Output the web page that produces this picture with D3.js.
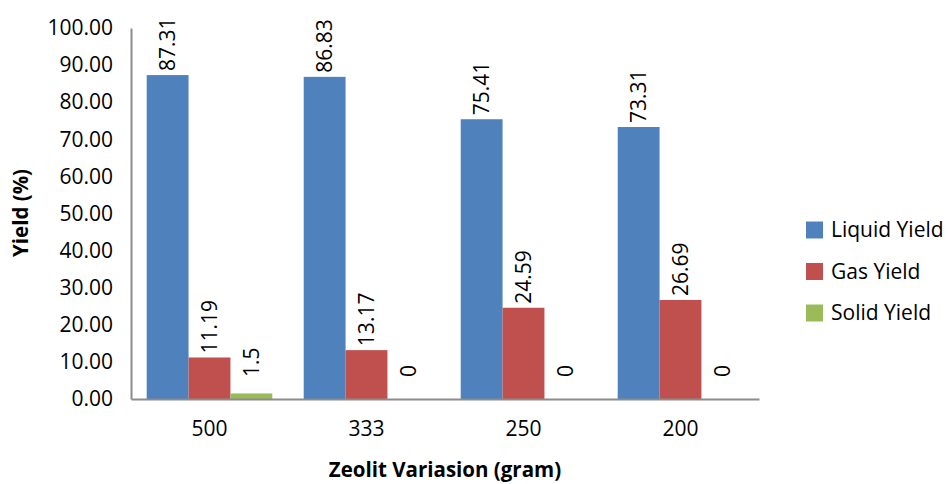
<html>
<head>
<script src="https://cdn.jsdelivr.net/npm/d3@7"></script>
<style>
    body {
        margin: 0;
        background: white;
        font-family: "Open Sans", Arial, sans-serif;
    }
</style>
</head>
<body>
<svg id="chart"></svg>
<script>
    // data
    let categories = ["500", "333", "250", "200"];
    let seriesNames = ["Liquid Yield", "Gas Yield", "Solid Yield"];
    let liquidYield = [87.31, 86.83, 75.41, 73.31];
    let gasYield = [11.19, 13.17, 24.59, 26.69];
    let solidYield = [1.5, 0, 0, 0];
    let labelText = [
        ["87.31", "86.83", "75.41", "73.31"],
        ["11.19", "13.17", "24.59", "26.69"],
        ["1.5", "0", "0", "0"]
    ];
    let yTicks = [0, 10, 20, 30, 40, 50, 60, 70, 80, 90, 100];
    let colors = ["#4F81BD", "#C0504D", "#9BBB59"];

    let width = 948;
    let height = 484;
    let margin = { top: 28, bottom: 85, left: 131, right: 189 };

    let svg = d3.select("#chart")
        .attr("width", width)
        .attr("height", height);

    let rows = categories.map((c, i) => ({
        category: c,
        values: [liquidYield[i], gasYield[i], solidYield[i]],
        labels: [labelText[0][i], labelText[1][i], labelText[2][i]]
    }));

    // scales
    let xScale = d3.scaleBand()
        .domain(categories)
        .range([margin.left, width - margin.right])
        .paddingInner(0.2)
        .paddingOuter(0.1);

    let xSub = d3.scaleBand()
        .domain(seriesNames)
        .range([0, xScale.bandwidth()]);

    let yScale = d3.scaleLinear()
        .domain([0, 100])
        .range([height - margin.bottom, margin.top]);

    // bars
    let groups = svg.selectAll(".group")
        .data(rows)
        .enter().append("g")
        .attr("class", "group")
        .attr("transform", d => `translate(${xScale(d.category)},0)`);

    groups.selectAll("rect")
        .data(d => d.values.map((v, k) => ({ v, k, name: seriesNames[k] })))
        .enter().append("rect")
        .attr("x", d => xSub(d.name))
        .attr("width", xSub.bandwidth())
        .attr("y", d => yScale(d.v))
        .attr("height", d => yScale(0) - yScale(d.v))
        .attr("fill", d => colors[d.k]);

    // rotated value labels
    groups.selectAll("text")
        .data(d => d.values.map((v, k) => ({ v, k, name: seriesNames[k], label: d.labels[k] })))
        .enter().append("text")
        .attr("transform", d => {
            let cx = xSub(d.name) + xSub.bandwidth() / 2;
            let cy = Math.min(yScale(d.v) - 4, yScale(0) - 22);
            return `translate(${cx},${cy}) rotate(-90)`;
        })
        .attr("dy", "0.35em")
        .attr("font-size", 21)
        .attr("fill", "#000")
        .text(d => d.label);

    // axes
    let axisY = d3.axisLeft(yScale)
        .tickValues(yTicks)
        .tickFormat(d3.format(".2f"))
        .tickSize(0)
        .tickPadding(18);

    let gy = svg.append("g")
        .attr("transform", `translate(${margin.left},0)`)
        .call(axisY);
    gy.select(".domain").attr("stroke", "#8c8c8c").attr("stroke-width", 2);
    gy.selectAll("text")
        .attr("font-family", "Open Sans")
        .attr("font-size", 21)
        .attr("fill", "#000");

    let axisX = d3.axisBottom(xScale)
        .tickSize(0)
        .tickPadding(22);

    let gx = svg.append("g")
        .attr("transform", `translate(0,${height - margin.bottom})`)
        .call(axisX);
    gx.select(".domain").attr("stroke", "#8c8c8c").attr("stroke-width", 2);
    gx.selectAll("text")
        .attr("font-family", "Open Sans")
        .attr("font-size", 21)
        .attr("fill", "#000");

    // axis titles
    svg.append("text")
        .attr("x", 445)
        .attr("y", 477)
        .attr("text-anchor", "middle")
        .attr("font-weight", "bold")
        .attr("font-size", 20.5)
        .text("Zeolit Variasion (gram)");

    svg.append("text")
        .attr("transform", `translate(21,213) rotate(-90)`)
        .attr("text-anchor", "middle")
        .attr("dy", "0.35em")
        .attr("font-weight", "bold")
        .attr("font-size", 20.5)
        .text("Yield (%)");

    // legend
    let legend = svg.selectAll(".legend")
        .data(seriesNames)
        .enter().append("g")
        .attr("class", "legend")
        .attr("transform", (d, i) => `translate(806,${230 + i * 41.5})`);

    legend.append("rect")
        .attr("x", 0)
        .attr("y", -8.5)
        .attr("width", 17)
        .attr("height", 17)
        .attr("fill", (d, i) => colors[i]);

    legend.append("text")
        .attr("x", 25)
        .attr("dy", "0.35em")
        .attr("font-size", 21)
        .text(d => d);
</script>
</body>
</html>
